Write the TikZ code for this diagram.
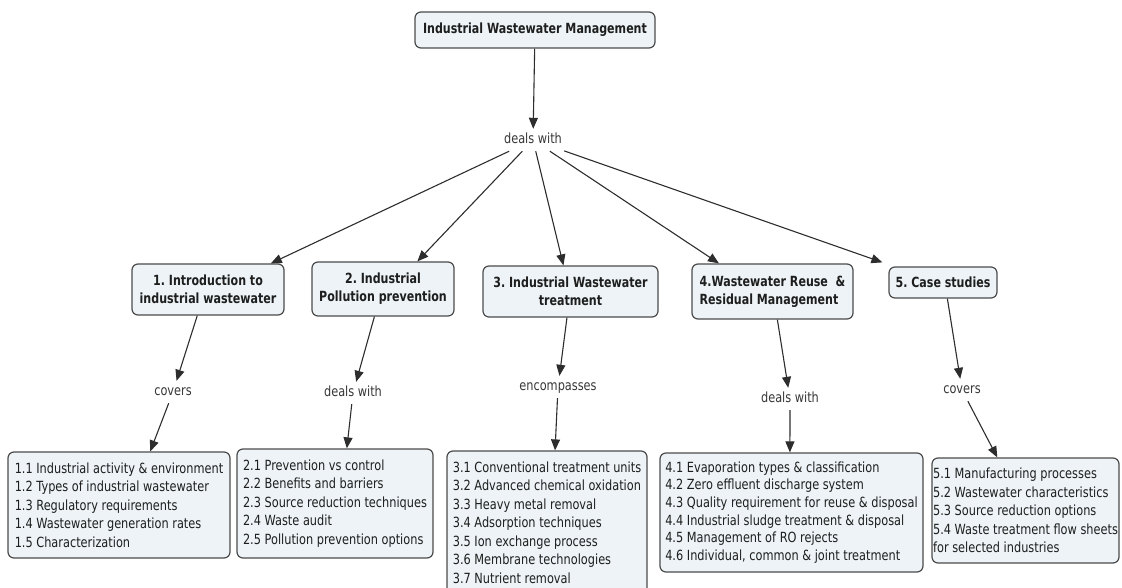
\documentclass[tikz,border=0pt]{standalone}
\usepackage{fontspec}
\setmainfont{DejaVu Sans}[FakeStretch=0.81]
\newfontfamily\titlefont{DejaVu Sans}[FakeStretch=0.79]
\usetikzlibrary{arrows.meta,calc}
\definecolor{boxfill}{RGB}{237,243,246}
\definecolor{boxdraw}{RGB}{75,75,75}
\definecolor{txt}{RGB}{30,30,30}
\definecolor{lbl}{RGB}{55,55,55}
\definecolor{lnk}{RGB}{45,45,45}
\frenchspacing
\begin{document}
\begin{tikzpicture}[x=1pt,y=-1pt,
  concept/.style={draw=boxdraw, fill=boxfill, rounded corners=6pt, line width=1.2pt,
    font=\titlefont\bfseries\fontsize{14}{18}\selectfont, text=txt, align=center, inner sep=0pt},
  listbox/.style={draw=boxdraw, fill=boxfill, rounded corners=6pt, line width=1.2pt,
    font=\fontsize{14}{18.5}\selectfont, text=txt, align=left, inner sep=0pt},
  linklabel/.style={font=\fontsize{14}{16}\selectfont, text=lbl, inner xsep=2pt,
    inner ysep=5pt, text height=9.5pt, text depth=2.5pt},
  arr/.style={draw=lnk, line width=1.1pt, -{Triangle[length=11pt,width=9pt]}}]

\useasboundingbox (0,0) rectangle (1122,588);

% top concept
\node[concept, minimum width=240pt, minimum height=36pt] (top) at (535,30) {Industrial Wastewater Management};
\node[linklabel] (dw0) at (533,140) {deals with};

% second level concepts
\node[concept, minimum width=152pt, minimum height=51pt] (b1) at (208,289.5) {1. Introduction to\\industrial wastewater};
\node[concept, minimum width=142pt, minimum height=54pt] (b2) at (383,289) {2. Industrial\\Pollution prevention};
\node[concept, minimum width=175pt, minimum height=51pt] (b3) at (570.5,291.5) {3. Industrial Wastewater\\treatment};
\node[concept, align=left, minimum width=161pt, minimum height=55pt] (b4) at (772.5,291.5) {4.Wastewater Reuse~~\&\\Residual Management};
\node[concept, minimum width=108pt, minimum height=31pt] (b5) at (943,282.5) {5. Case studies};

% linking phrases
\node[linklabel] (l1) at (173,392) {covers};
\node[linklabel] (l2) at (353,393) {deals with};
\node[linklabel] (l3) at (558,387) {encompasses};
\node[linklabel] (l4) at (790,399) {deals with};
\node[linklabel] (l5) at (962,390) {covers};

% lists
\node[listbox, minimum width=222pt, minimum height=106pt] (c1) at (119,505)
  {1.1 Industrial activity \& environment\\1.2 Types of industrial wastewater\\1.3 Regulatory requirements\\1.4 Wastewater generation rates\\1.5 Characterization};
\node[listbox, minimum width=196pt, minimum height=109pt] (c2) at (335,503.5)
  {2.1 Prevention vs control\\2.2 Benefits and barriers\\2.3 Source reduction techniques\\2.4 Waste audit\\2.5 Pollution prevention options};
\node[listbox, minimum width=200pt, minimum height=143pt] (c3) at (547,522.5)
  {3.1 Conventional treatment units\\3.2 Advanced chemical oxidation\\3.3 Heavy metal removal\\3.4 Adsorption techniques\\3.5 Ion exchange process\\3.6 Membrane technologies\\3.7 Nutrient removal};
\node[listbox, font=\fontsize{14}{17.6}\selectfont, minimum width=263pt, minimum height=119pt] (c4) at (791.5,512.5)
  {4.1 Evaporation types \& classification\\4.2 Zero effluent discharge system\\4.3 Quality requirement for reuse \& disposal\\4.4 Industrial sludge treatment \& disposal\\4.5 Management of RO rejects\\4.6 Individual, common \& joint treatment};
\node[listbox, minimum width=187pt, minimum height=105pt] (c5) at (1025.5,510.5)
  {5.1 Manufacturing processes\\5.2 Wastewater characteristics\\5.3 Source reduction options\\5.4 Waste treatment flow sheets\\for selected industries};

% connectors
\draw[arr] (top) -- (dw0);
\draw[arr] (dw0) -- ($(b1.north west)!0.91!(b1.north east)$);
\draw[arr] (dw0) -- ($(b2.north west)!0.74!(b2.north east)$);
\draw[arr] (dw0) -- ($(b3.north west)!0.46!(b3.north east)$);
\draw[arr] (dw0) -- ($(b4.north west)!0.17!(b4.north east)$);
\draw[arr] (dw0) -- ($(b5.north west)+(-6,-4)$);

\draw[arr] ($(b1.south west)!0.43!(b1.south east)$) -- (l1);
\draw[arr] (l1) -- ($(c1.north west)!0.64!(c1.north east)$);
\draw[arr] ($(b2.south west)!0.44!(b2.south east)$) -- (l2);
\draw[arr] (l2) -- ($(c2.north west)!0.56!(c2.north east)$);
\draw[arr] ($(b3.south west)!0.48!(b3.south east)$) -- (l3);
\draw[arr] (l3) -- ($(c3.north west)!0.54!(c3.north east)$);
\draw[arr] ($(b4.south west)!0.53!(b4.south east)$) -- (l4);
\draw[arr] (l4) -- ($(c4.north west)!0.494!(c4.north east)$);
\draw[arr] ($(b5.south west)!0.54!(b5.south east)$) -- (l5);
\draw[arr] (l5) -- ($(c5.north west)!0.35!(c5.north east)$);
\end{tikzpicture}
\end{document}
